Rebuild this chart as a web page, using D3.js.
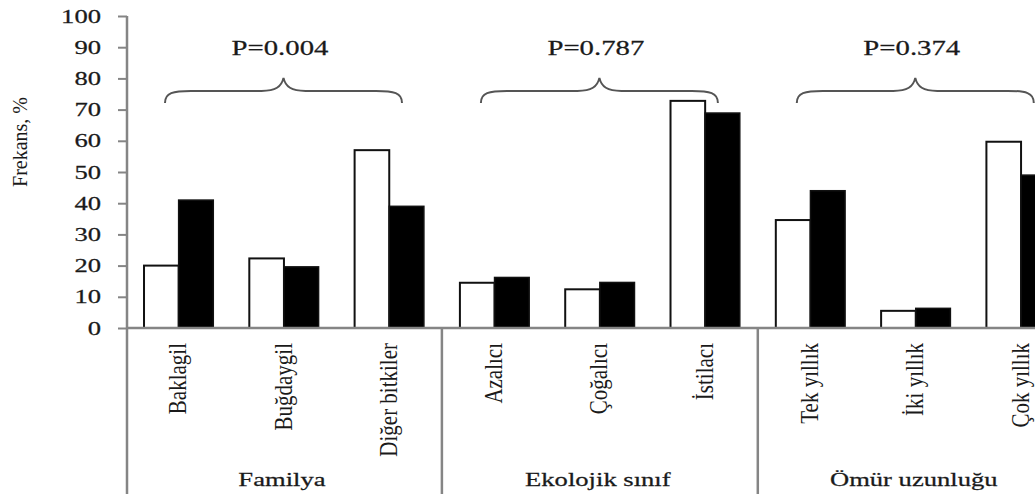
<!DOCTYPE html>
<html>
<head>
<meta charset="utf-8">
<script src="https://cdn.jsdelivr.net/npm/d3@7"></script>
<style>
  body { margin: 0; background: #fff; }
  text { font-family: "Liberation Serif", "Times New Roman", serif; fill: #1a1a1a; }
  text.heavy { stroke: #1a1a1a; stroke-width: 0.25px; }
</style>
</head>
<body>
<div id="chart"></div>
<script>
var width = 1035
var height = 494

// data
var categories = ["Baklagil", "Buğdaygil", "Diğer bitkiler", "Azalıcı", "Çoğalıcı", "İstilacı", "Tek yıllık", "İki yıllık", "Çok yıllık"]
var series1 = [20, 22.3, 57, 14.5, 12.4, 72.8, 34.6, 5.5, 59.7]
var series2 = [41, 19.6, 39, 16.2, 14.6, 68.9, 44, 6.3, 49]
var groups = ["Familya", "Ekolojik sınıf", "Ömür uzunluğu"]
var pValues = ["P=0.004", "P=0.787", "P=0.374"]
var yTicks = [0, 10, 20, 30, 40, 50, 60, 70, 80, 90, 100]
var braceLevel = 76

var rows = categories.map((c, i) => ({ cat: c, group: groups[Math.floor(i / 3)], s1: series1[i], s2: series2[i] }))

var svg = d3.select("#chart").append("svg")
  .attr("width", width)
  .attr("height", height)

var axisColor = "#858585"

var x = d3.scaleBand()
  .domain(categories)
  .range([126, 126 + 9 * 105.3])
  .padding(0)

var xGroup = d3.scaleBand()
  .domain(groups)
  .range(x.range())
  .padding(0)

var xInner = d3.scaleBand()
  .domain(["s1", "s2"])
  .range([0, x.bandwidth()])
  .paddingInner(0)
  .paddingOuter(0.52)

var y = d3.scaleLinear()
  .domain([0, 100])
  .range([328, 16])

// bars
var g = svg.selectAll("g.cat")
  .data(rows)
  .enter()
  .append("g")
  .attr("class", "cat")
  .attr("transform", d => "translate(" + x(d.cat) + ",0)")

g.append("rect")
  .attr("x", xInner("s1"))
  .attr("y", d => y(d.s1))
  .attr("width", xInner.bandwidth())
  .attr("height", d => y(0) - y(d.s1))
  .attr("fill", "#fff")
  .attr("stroke", "#111")
  .attr("stroke-width", 2)

g.append("rect")
  .attr("x", xInner("s2"))
  .attr("y", d => y(d.s2))
  .attr("width", xInner.bandwidth())
  .attr("height", d => y(0) - y(d.s2))
  .attr("fill", "#000")
  .attr("stroke", "#111")
  .attr("stroke-width", 1.5)

// y axis
var yAxis = svg.append("g")
  .attr("transform", "translate(127,0)")
  .call(d3.axisLeft(y).tickValues(yTicks).tickSize(9).tickPadding(0).tickFormat(d => ""))

yAxis.select(".domain").remove()
yAxis.selectAll("line").attr("stroke", axisColor).attr("stroke-width", 2)

svg.selectAll("text.ytick")
  .data(yTicks)
  .enter()
  .append("text")
  .attr("class", "ytick heavy")
  .attr("transform", d => "translate(101," + y(d) + ") scale(1.4,1)")
  .attr("dy", "0.35em")
  .attr("text-anchor", "end")
  .style("font-size", "19px")
  .text(d => d)

// axis lines and group separators
svg.append("line")
  .attr("x1", 127).attr("x2", 127)
  .attr("y1", y(100)).attr("y2", height)
  .attr("stroke", axisColor).attr("stroke-width", 2.5)

svg.append("line")
  .attr("x1", 126).attr("x2", width)
  .attr("y1", y(0)).attr("y2", y(0))
  .attr("stroke", axisColor).attr("stroke-width", 2.5)

svg.selectAll("line.sep")
  .data(groups.slice(1))
  .enter()
  .append("line")
  .attr("class", "sep")
  .attr("x1", d => xGroup(d)).attr("x2", d => xGroup(d))
  .attr("y1", y(0)).attr("y2", height)
  .attr("stroke", axisColor).attr("stroke-width", 2.5)

// category labels
svg.selectAll("text.cat")
  .data(categories)
  .enter()
  .append("text")
  .attr("class", "cat")
  .attr("transform", d => "translate(" + (x(d) + x.bandwidth() / 2) + ",343) scale(1.2,1) rotate(-90)")
  .attr("dy", "0.3em")
  .attr("text-anchor", "end")
  .style("font-size", "21px")
  .text(d => d)

// group labels
svg.selectAll("text.grp")
  .data(groups)
  .enter()
  .append("text")
  .attr("class", "grp heavy")
  .attr("transform", d => "translate(" + (xGroup(d) + xGroup.bandwidth() / 2 - 2) + ",486) scale(1.4,1)")
  .attr("text-anchor", "middle")
  .style("font-size", "19px")
  .text(d => d)

// braces and p-values
var brace = (x1, x2, yf) => {
  var cx = (x1 + x2) / 2
  var drop = 12, rise = 13
  return "M" + x1 + "," + (yf + drop) +
    " C" + x1 + "," + (yf + 2) + " " + (x1 + 8) + "," + yf + " " + (x1 + 26) + "," + yf +
    " L" + (cx - 22) + "," + yf +
    " C" + (cx - 8) + "," + yf + " " + (cx - 2) + "," + (yf - 4) + " " + cx + "," + (yf - rise) +
    " C" + (cx + 2) + "," + (yf - 4) + " " + (cx + 8) + "," + yf + " " + (cx + 22) + "," + yf +
    " L" + (x2 - 26) + "," + yf +
    " C" + (x2 - 8) + "," + yf + " " + x2 + "," + (yf + 2) + " " + x2 + "," + (yf + drop)
}

svg.selectAll("path.brace")
  .data(groups)
  .enter()
  .append("path")
  .attr("class", "brace")
  .attr("d", d => brace(xGroup(d) + 39, xGroup(d) + 276, y(braceLevel)))
  .attr("fill", "none")
  .attr("stroke", "#555")
  .attr("stroke-width", 2)

svg.selectAll("text.pval")
  .data(groups)
  .enter()
  .append("text")
  .attr("class", "pval heavy")
  .attr("transform", (d, i) => "translate(" + (xGroup(d) + xGroup.bandwidth() / 2 - 4) + ",55) scale(1.37,1)")
  .attr("text-anchor", "middle")
  .style("font-size", "21px")
  .text((d, i) => pValues[i])

// y label
svg.append("text")
  .attr("transform", "translate(27,142) scale(1.1,1) rotate(-90)")
  .attr("text-anchor", "middle")
  .style("font-size", "20px")
  .text("Frekans, %")
</script>
</body>
</html>
